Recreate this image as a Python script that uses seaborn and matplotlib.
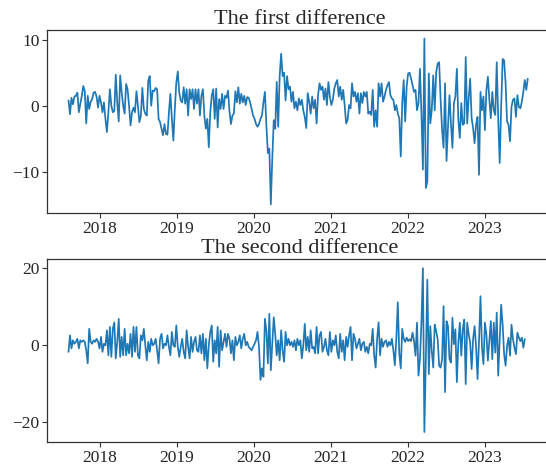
import numpy as np
import pandas as pd
import matplotlib
matplotlib.use("Agg")
import matplotlib.pyplot as plt
import matplotlib.dates as mdates
from matplotlib.ticker import MultipleLocator
import seaborn as sns

# ---------------- data ----------------
start_date = "2017-08-06"

first_2017 = [0.8, -1.3, 1.2, 0.2, 1.4, 1.5, 2.0, -1.0, 0.3, 1.5, 3.0, 2.2, -2.7, 1.5,
              -0.5, 0.6, 1.0, 2.0, 2.1, 1.4, -0.3]
first_2018 = [1.5, 0.5, -1.0, 0.5, -2.0, -4.0, -1.0, 2.5, 0.0, -1.0, -0.8, 4.7, 0.5, -2.4,
              4.6, 2.0, 0.0, -1.2, 3.3, 2.5, 0.0, -3.0, -1.0, -0.3, -1.0, 2.2, 0.0, -2.5,
              -1.5, 2.7, -0.5, -1.2, -1.5, 3.8, 4.5, 0.0, 2.3, 2.2, 2.7, 2.5, -2.0, -2.5,
              -3.5, -4.5, -2.8, -4.3, -4.4, -1.0, 1.8, -2.0, -5.3, -0.5]
first_2019 = [3.5, 5.2, 2.0, 0.8, 0.5, 2.8, 0.3, 2.5, -1.5, 2.5, 1.0, 2.5, -0.5, 2.5,
              0.3, 2.5, -1.5, 1.5, 2.5, -1.5, -3.5, -2.0, -6.3, -1.0, 1.5, 2.5, -2.0, 2.6,
              -3.3, 1.0, -0.5, 1.8, -0.5, 1.5, 1.2, 2.3, -0.8, -2.8, -1.5, -1.2, 2.2, 0.5,
              2.8, 0.3, 1.8, 0.5, 1.5, 0.1, 1.3, 1.2, 0.5, -0.5]
first_2020a = [-1.5, -2.0, -2.8, -3.2, -2.8, -2.0, -1.5, 0.5, 2.1, -3.0, -7.2, -6.5,
               -15.0, -8.0, -2.2, -3.5, 3.6, -3.2, 4.5, 7.9, 4.5, 5.0, 0.8, 4.5, 2.5]
first_2020b_2021 = [2.9, 0.6, 2.1, -0.4, 0.6, -0.7, 1.1, 0.1, 0.9, -0.7, -1.7, -3.4, 1.9,
                    0.6, -1.2, 1.4, -0.4, 0.9, -2.7, 1.6, 3.4, 2.4, 2.9, 0.9, 2.6, 0.1,
                    3.6, 1.4, 0.1, 0.9, 2.6, 3.4, 3.9, 1.4, 2.9, 0.9, 2.4, 0.1, -2.7,
                    -2.2, 0.1, -0.4, 3.4, 1.4, 2.1, 0.6, 1.9, -1.2, 1.9, 0.4, 2.1, 1.4,
                    2.1, -1.2, -0.9, -1.4, 2.4, -3.2, -0.7, -3.2, 3.4, 1.4, 3.4, 0.6, 1.4,
                    2.4, 3.1, 3.6, 1.6, 1.1, 0.9, -0.7, 0.1, -1.2, -1.9, -7.7, 0.4, 3.9,
                    -2.4, 2.9, 4.9]
first_2022_2023 = [5.0, 4.1, 3.1, 2.1, 2.4, -0.7, 0.4, 5.6, -1.2, -9.7,
                   10.2, -12.5, -11.5, 4.9, -2.7, -0.7, 4.6, -0.7, 5.1, 6.4,
                   6.6, 0.9, -3.7, -6.4, 3.4, -8.4, -3.2, 1.6, -2.7, -6.4,
                   0.4, 1.4, 5.6, -2.2, -4.9, 0.4, -2.9, -2.7, 7.4, -2.7,
                   1.1, 4.1, -1.9, -3.4, -5.7, -2.9, -1.7, -10.5, 2.1, -0.7,
                   1.4, -3.7, 2.4, 4.4, 0.9, -1.9, 2.1, -0.7, -1.4, 6.6,
                   -1.9, -8.7, -0.2, 7.1, 6.9, 3.4, -2.4, -2.9, -5.4, -0.2,
                   0.9, 1.1, -1.7, 1.6, -0.2, -0.4, 0.6, 2.1, 3.9, 2.4, 4.1]

second_a = [-1.8, 2.5, -0.9, 1.2, 0.3, 0.8, 1.6, -0.9, 1.2, 0.8, 1.2, 0.8, -1.4, -4.8,
            4.2, 0.8, 0.3, 1.2, 0.8, 1.6, 0.8, -0.9, 2.1, -1.8, 0.3, -0.1, 3.8, -2.7,
            4.7, -3.1, 4.2, 5.9, -3.5, 0.8, 6.8, -3.1, 2.1, -2.7, 4.2, -2.7, 0.3, -2.2,
            2.9, -3.1, 4.7, -1.8, 4.7, -2.7, -3.5, 2.5, 1.2, 4.2, -0.1, -4.0, 0.8, -1.8,
            1.6, -0.1, 0.3, 1.6, -1.4, -4.8, 1.6, 2.9, -0.9, 0.3, -0.1, 2.5, -0.5, -2.7,
            3.4, -0.1, -0.5, 5.1, -0.5, -3.1]
second_b = [-0.5, 1.6, -1.8, -3.5, 3.8, -0.5, -3.5, 2.1, -1.8, 0.8, 2.1, -1.4, -1.8,
            2.5, -2.2, 2.9, -4.0, 1.6, -6.1, -0.1, 3.4, 5.1, -4.4, 1.2, -2.2, 4.7,
            -5.7, 3.8, -1.4, 0.8, 2.9, -0.5, 2.9, 1.6, -2.2, 1.2, -4.0, 2.1, -0.1, 0.8,
            2.5, -0.9, 1.6, 2.9, -0.1, 0.8, -0.5, -0.9, -1.4, -0.5, 0.3, 1.2, 3.4,
            -0.5, -9.1, -6.1, -8.3, 6.8, 3.8, -4.8, 8.1, -6.6, 0.3, 7.2, 2.9, -2.7,
            1.2, -4.0, 3.8, -1.4, -4.4, 3.4, -0.1, 1.6, -0.1]
second_c = [0.8, -0.5, 1.2, -1.4, 1.6, -0.1, 1.2, -3.5, -0.1, 5.5, -1.4, 2.1, -1.8, 3.8,
            -0.9, -0.5, -2.2, 4.7, -2.2, 2.5, 3.4, -1.8, -0.5, 1.6, -1.4, -2.7, 3.4,
            -1.8, 1.2, -0.1, 2.5, -1.8, -3.5, 2.9, -1.8, 1.2, -4.0, 2.1, -0.5, 2.5,
            4.7, -4.0, 2.9, 1.6, -0.9, 0.3, 1.6, -1.4, 0.3, 0.8, -1.8, -0.5, -2.2, 0.3,
            -0.1, 4.2, -2.7, -5.9, 1.6, 5.9, -2.7, 1.6, -0.5, 0.8, 1.2, -0.5, 0.8,
            -0.1, 1.6, -1.4, -5.3, 1.6, 11.1, -2.2, -6.1, 4.2, 1.6, 0.8]
second_d = [1.9, 1.0, 1.5, 1.0, 3.2, 1.0, -2.8, 5.8, -8.0, -3.7, 5.8, 20.0, -22.7, -3.7,
            17.0, -7.6, 4.9, -1.6, -5.9, 5.3, 3.6, 1.5, -5.4, -5.9, -3.7, 10.1, -12.3,
            6.2, 4.9, -3.7, -4.6, 7.1, 0.2, 4.1, -9.7, 0.6, 5.8, -2.8, 4.1, 6.6, -10.2,
            5.8, 2.8, 0.6, -6.3, 1.5, 4.9, -0.3, -8.9, 1.0, 12.7, -0.7, -5.0, 5.8, 2.8,
            -4.1, 1.0, 6.2, -3.7, 5.8, -2.0, 8.4, -8.0, 1.5, 10.5, 5.3, -2.4, -5.4,
            -0.3, 1.9, -2.8, 5.3, 1.5, -0.7, -2.4, 3.2, 1.9, 1.0, 1.9, -0.7, 1.5]

titles = ["The first difference", "The second difference"]
year_ticks = ["2018", "2019", "2020", "2021", "2022", "2023"]

first_diff = first_2017 + first_2018 + first_2019 + first_2020a + first_2020b_2021 + first_2022_2023
second_diff = second_a + second_b + second_c + second_d

df1 = pd.DataFrame({"date": pd.date_range(start_date, periods=len(first_diff), freq="W"),
                    "value": first_diff})
df2 = pd.DataFrame({"date": pd.date_range(start_date, periods=len(second_diff), freq="W"),
                    "value": second_diff})

# ---------------- style ----------------
sns.set_style("ticks")
plt.rcParams["font.family"] = ["Liberation Serif", "DejaVu Serif"]
plt.rcParams["axes.unicode_minus"] = True

W, H = 546, 466
fig = plt.figure(figsize=(W / 100, H / 100), dpi=100)

left = 47 / W
width = (552 - 47) / W
ax1 = fig.add_axes([left, 1 - 213 / H, width, 183 / H])
ax2 = fig.add_axes([left, 1 - 442 / H, width, 183 / H])

color = "#1f77b4"
sns.lineplot(data=df1, x="date", y="value", ax=ax1, color=color, linewidth=1.25)
sns.lineplot(data=df2, x="date", y="value", ax=ax2, color=color, linewidth=1.25)

xlim = (pd.Timestamp("2017-04-26"), pd.Timestamp("2023-11-15"))
tick_dates = [pd.Timestamp(f"{y}-01-01") for y in year_ticks]
for ax, title, step in ((ax1, titles[0], 10), (ax2, titles[1], 20)):
    ax.set_xlim(*xlim)
    ax.set_xticks(tick_dates)
    ax.set_xticklabels(year_ticks)
    ax.yaxis.set_major_locator(MultipleLocator(step))
    ax.set_xlabel("")
    ax.set_ylabel("")
    ax.set_title(title, fontsize=16, pad=4)
    ax.tick_params(labelsize=12.5, length=3.5, width=0.8, pad=2, color="#333333")
    for s in ax.spines.values():
        s.set_color("#333333")
        s.set_linewidth(0.9)

ax1.set_ylim(-16.3, 11.5)
ax2.set_ylim(-25.3, 22.4)

fig.savefig("out.png", dpi=100)
